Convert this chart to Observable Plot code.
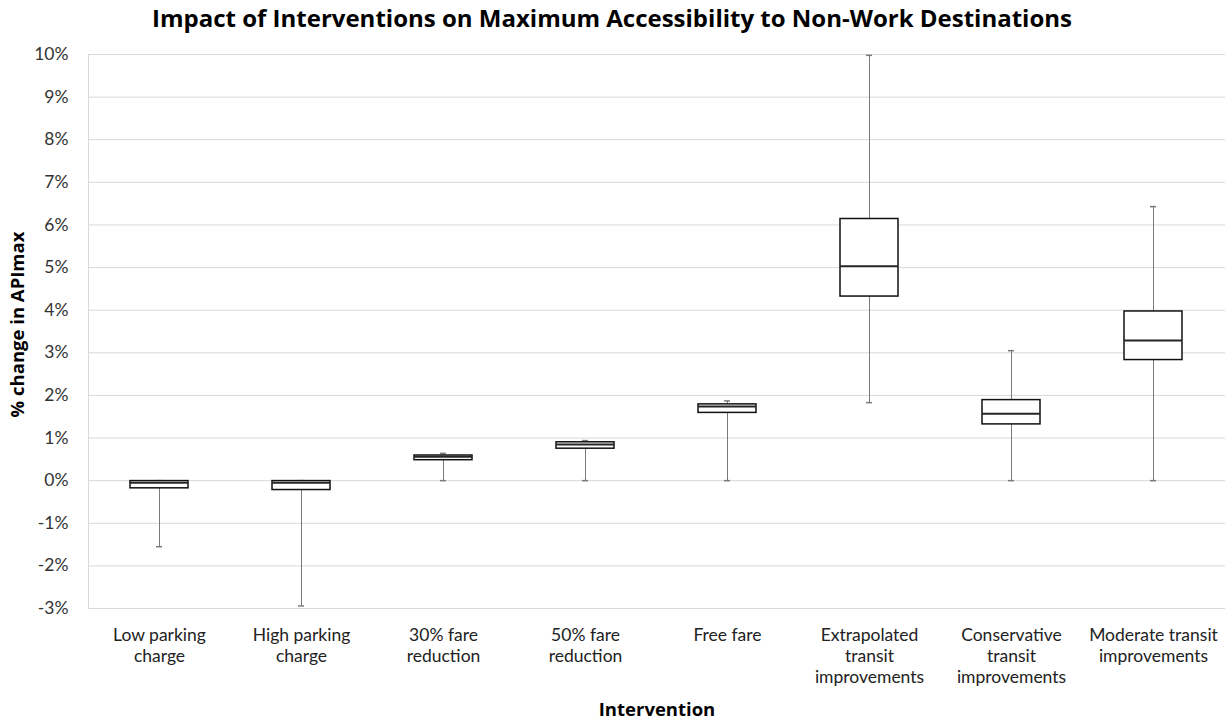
<!DOCTYPE html>
<html><head><meta charset="utf-8">
<script src="https://cdn.jsdelivr.net/npm/d3@7"></script>
<script src="https://cdn.jsdelivr.net/npm/@observablehq/plot@0.6"></script>
<style>
body{margin:0;background:#fff;font-family:Lato,"Open Sans",sans-serif;}
#title{height:44px;line-height:36px;text-align:center;font-family:"Open Sans",sans-serif;font-weight:bold;font-size:24px;color:#000;padding-right:7px;white-space:nowrap;}
#chart svg{font-family:Lato,"Open Sans",sans-serif;}
</style></head><body>
<div id="title">Impact of Interventions on Maximum Accessibility to Non-Work Destinations</div>
<div id="chart"></div>
<script>
const categories = ["Low parking charge","High parking charge","30% fare reduction","50% fare reduction","Free fare","Extrapolated transit improvements","Conservative transit improvements","Moderate transit improvements"];
const tickLabels = ["Low parking\ncharge","High parking\ncharge","30% fare\nreduction","50% fare\nreduction","Free fare","Extrapolated\ntransit\nimprovements","Conservative\ntransit\nimprovements","Moderate transit\nimprovements"];
const whiskerLow  = [-1.55, -2.94, 0.00, 0.00, 0.00, 1.83, 0.00, 0.00];
const q1          = [-0.18, -0.22, 0.48, 0.75, 1.59, 4.32, 1.32, 2.83];
const median      = [-0.05, -0.05, 0.56, 0.85, 1.74, 5.03, 1.57, 3.29];
const q3          = [-0.01, -0.01, 0.59, 0.90, 1.79, 6.14, 1.89, 3.97];
const whiskerHigh = [ 0.00,  0.00, 0.64, 0.94, 1.87, 9.98, 3.05, 6.43];
const yTicks = [-3,-2,-1,0,1,2,3,4,5,6,7,8,9,10];

const rows = categories.map((c, i) => ({c, lo: whiskerLow[i], q1: q1[i], med: median[i], q3: q3[i], hi: whiskerHigh[i]}));
const labelOf = new Map(categories.map((c, i) => [c, tickLabels[i]]));
const fs = 17.5;

const chart = Plot.plot({
  width: 1231, height: 679,
  marginTop: 10, marginBottom: 115, marginLeft: 88, marginRight: 6,
  style: {background: "#fff"},
  x: {domain: categories, paddingInner: 0.59, paddingOuter: 0.295, label: null},
  y: {domain: [-3, 10], label: null},
  marks: [
    Plot.gridY(yTicks, {stroke: "#d9d9d9", strokeOpacity: 1, strokeWidth: 1}),
    Plot.frame({anchor: "left", stroke: "#d9d9d9", strokeWidth: 1}),
    Plot.ruleX(rows, {x: "c", y1: "lo", y2: "hi", stroke: "#7a7a7a", strokeWidth: 1}),
    Plot.tickY(rows, {x: "c", y: "lo", insetLeft: 26, insetRight: 26, stroke: "#7a7a7a", strokeWidth: 1.5}),
    Plot.tickY(rows, {x: "c", y: "hi", insetLeft: 26, insetRight: 26, stroke: "#7a7a7a", strokeWidth: 1.5}),
    Plot.barY(rows, {x: "c", y1: "q1", y2: "q3", fill: "white", stroke: "#111", strokeWidth: 1.5}),
    Plot.tickY(rows, {x: "c", y: "med", stroke: "#262626", strokeWidth: 2}),
    Plot.axisY(yTicks, {tickSize: 0, tickPadding: 20, fontSize: fs, fill: "#333", tickFormat: d => d + "%", label: null}),
    Plot.axisX({tickSize: 0, tickPadding: 18, fontSize: fs, fill: "#222", lineHeight: 1.2, tickFormat: d => labelOf.get(d), label: null}),
    Plot.text(["Intervention"], {text: d => d, frameAnchor: "bottom", dy: 107, fontSize: 18.5, fontWeight: "bold", fontFamily: "Open Sans", fill: "#000"}),
    Plot.text(["% change in APImax"], {text: d => d, frameAnchor: "left", textAnchor: "middle", dx: -70, dy: -7, rotate: -90, fontSize: 18.5, fontWeight: "bold", fontFamily: "Open Sans", fill: "#000"})
  ]
});
document.getElementById("chart").appendChild(chart);
</script>
</body></html>
